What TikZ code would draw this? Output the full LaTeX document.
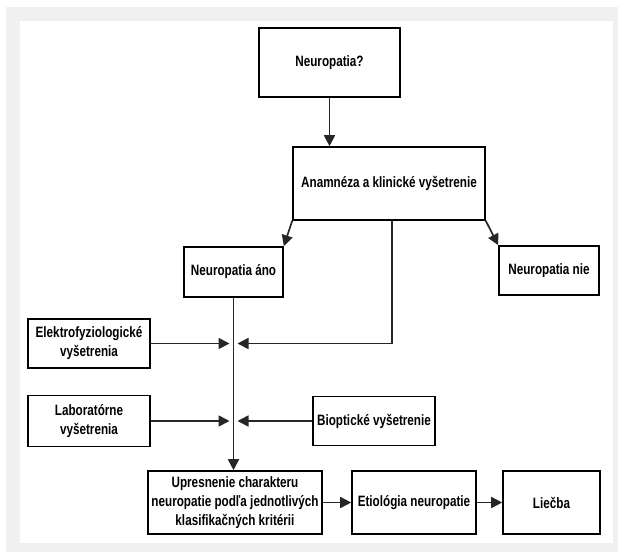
\documentclass[tikz,border=0pt]{standalone}
\usepackage{fontspec}
\setmainfont{Liberation Sans}[FakeStretch=0.78]
\usetikzlibrary{arrows.meta}

\begin{document}
\begin{tikzpicture}[x=1pt,y=-1pt,
  box/.style={draw=black,line width=1.6pt,fill=white,align=center,inner sep=0pt,
    font=\fontsize{15}{19}\selectfont\bfseries},
  con/.style={draw=black!85,line width=1.7pt,-{Triangle[width=11pt,length=11pt]}}]
\useasboundingbox (0,0) rectangle (618,552);
\fill[black!6] (6,7) rectangle (618,552);
\fill[white] (20,21) rectangle (613,543);

\node[box,minimum width=141pt,minimum height=69pt] (q) at (329.5,62.5) {Neuropatia?};
\node[box,minimum width=192pt,minimum height=73pt] (anam) at (389,183.5) {Anamnéza a klinické vyšetrenie};
\node[box,minimum width=99pt,minimum height=50pt] (ano) at (233.5,272) {Neuropatia áno};
\node[box,minimum width=100pt,minimum height=49pt] (nie) at (549,270.5) {Neuropatia nie};
\node[box,minimum width=122pt,minimum height=49pt] (ef) at (89,343.5) {Elektrofyziologické\\vyšetrenia};
\node[box,minimum width=122pt,minimum height=51pt] (lab) at (89,421) {Laboratórne\\vyšetrenia};
\node[box,minimum width=122pt,minimum height=49pt] (bio) at (374,421) {Bioptické vyšetrenie};
\node[box,minimum width=174pt,minimum height=63pt] (upr) at (235,502.5) {Upresnenie charakteru\\neuropatie podľa jednotlivých\\klasifikačných kritérii};
\node[box,minimum width=124pt,minimum height=63pt] (eti) at (414,502.5) {Etiológia neuropatie};
\node[box,minimum width=97pt,minimum height=63pt] (lie) at (551.5,502.5) {Liečba};

\coordinate (jA) at (233.5,343.5);
\coordinate (jB) at (233.5,421);

\draw[con] (q.south) -- (q.south |- anam.north);
\draw[con] (anam.south west) -- (ano.north east);
\draw[con] (anam.south east) -- (nie.north west);
\draw[con,shorten >=4pt] ([xshift=3pt]anam.south) |- (jA);
\draw[con] (ano.south) -- (ano.south |- upr.north);
\draw[con,shorten >=4pt] (ef.east) -- (jA);
\draw[con,shorten >=4pt] (lab.east) -- (jB);
\draw[con,shorten >=4pt] (bio.west) -- (jB);
\draw[con] (upr) -- (eti);
\draw[con] (eti) -- (lie);
\end{tikzpicture}
\end{document}
